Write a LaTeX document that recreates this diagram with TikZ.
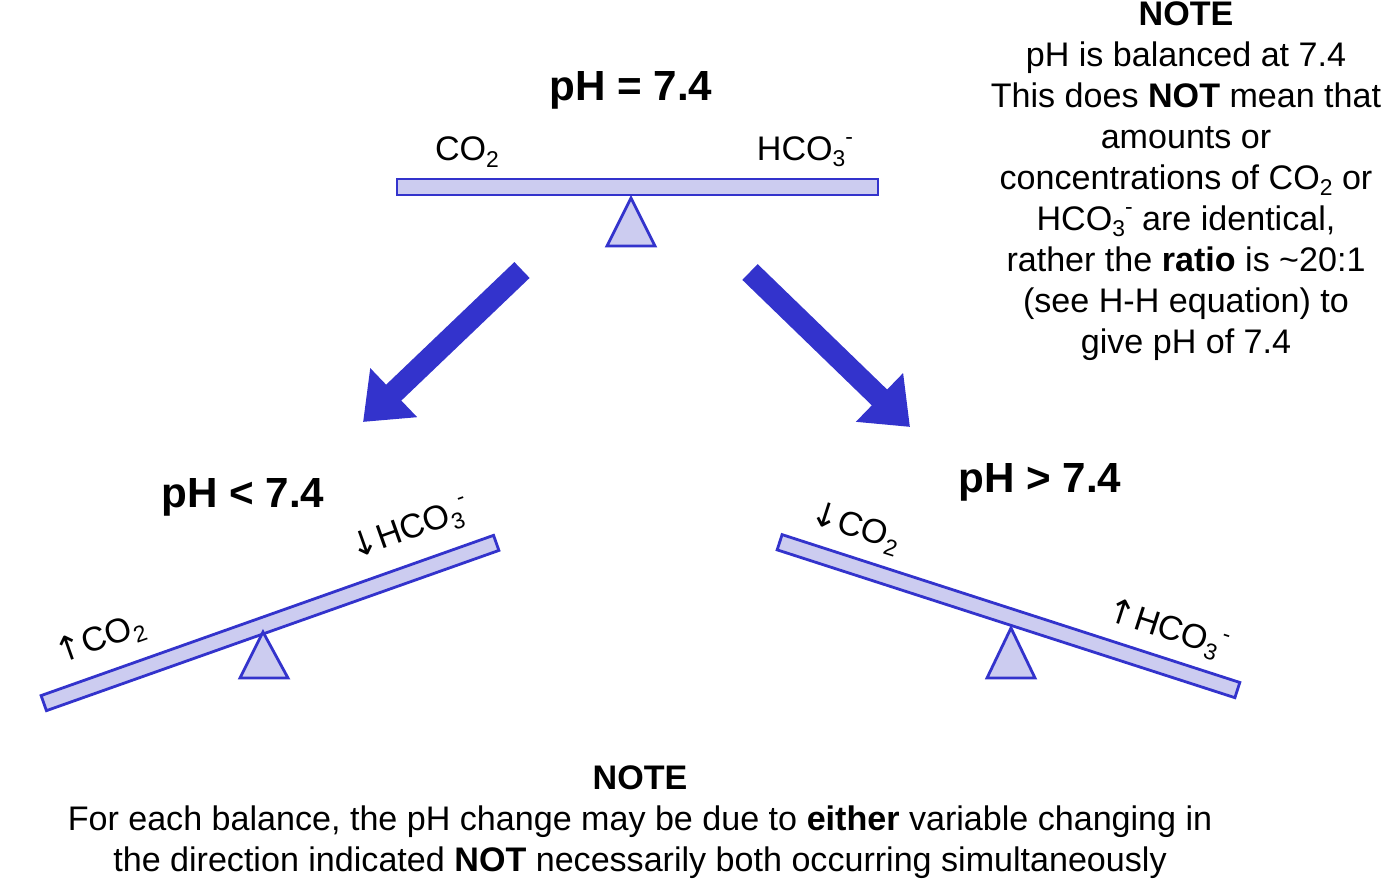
\documentclass[tikz,border=0pt]{standalone}
\usepackage{fontspec}
\setmainfont{Liberation Sans}
\newfontfamily\arr{DejaVu Sans}
\usetikzlibrary{arrows.meta}
\definecolor{bstroke}{RGB}{51,51,204}
\definecolor{bfill}{RGB}{204,204,240}
\newcommand\sbt[1]{\raisebox{-0.35ex}{\fontsize{13}{13}\selectfont #1}}
\newcommand\hco{HCO\sbt{3}\raisebox{0.9ex}{\fontsize{13}{13}\selectfont -}}
\newcommand\cotwo{CO\sbt{2}}
\begin{document}
\begin{tikzpicture}[x=0.02cm,y=-0.02cm,
  beam/.style={draw=bstroke,fill=bfill,line width=1.6pt},
  big/.style={font=\fontsize{24}{28}\selectfont\bfseries},
  txt/.style={font=\fontsize{19.4}{23.3}\selectfont,align=center},
  barrow/.style={draw=bstroke,line width=0.44cm,-{Triangle[length=0.85cm,width=1.3cm]}}]
\useasboundingbox (0,0) rectangle (1395,885);
% top balance
\draw[beam] (397,179) rectangle (878,195);
\draw[beam] (631,198) -- (655,246) -- (607,246) -- cycle;
\node[big] (t1) at (631,90) {pH = 7.4};
\node[txt] (c1) at (467,152) {\cotwo};
\node[txt] (h1) at (805,152) {\hco};
% arrows
\coordinate (a1) at (522,270); \coordinate (a2) at (363,422);
\coordinate (b1) at (750,272); \coordinate (b2) at (910,427);
\draw[barrow] (a1) -- (a2);
\draw[barrow] (b1) -- (b2);
% left balance
\draw[beam,rotate around={19.5:(270,623)}] (30,615) rectangle (510,631);
\draw[beam] (263,632) -- (288,678) -- (240,678) -- cycle;
\node[big] (t2) at (243,497) {pH < 7.4};
\node[txt,rotate=19.5] (c2) at (100,640) {{\arr↑}\cotwo};
\node[txt,rotate=19.5] (h2) at (410,530) {{\arr↓}\hco};
% right balance
\draw[beam,rotate around={-17.9:(1008,616)}] (768,608) rectangle (1249,624);
\draw[beam] (1011,628) -- (1035,678) -- (987,678) -- cycle;
\node[big] (t3) at (1040,482) {pH > 7.4};
\node[txt,rotate=-17.9] (c3) at (855,528) {{\arr↓}\cotwo};
\node[txt,rotate=-17.9] (h3) at (1167,630) {{\arr↑}\hco};
% notes
\node[txt] (n1) at (1186,181) {\textbf{NOTE}\\pH is balanced at 7.4\\This does \textbf{NOT} mean that\\amounts or\\concentrations of \cotwo{} or\\\hco{} are identical,\\rather the \textbf{ratio} is \textasciitilde20:1\\(see H-H equation) to\\give pH of 7.4};
\node[txt] (n2) at (640,822) {\textbf{NOTE}\\For each balance, the pH change may be due to \textbf{either} variable changing in\\the direction indicated \textbf{NOT} necessarily both occurring simultaneously};
\end{tikzpicture}
\end{document}
